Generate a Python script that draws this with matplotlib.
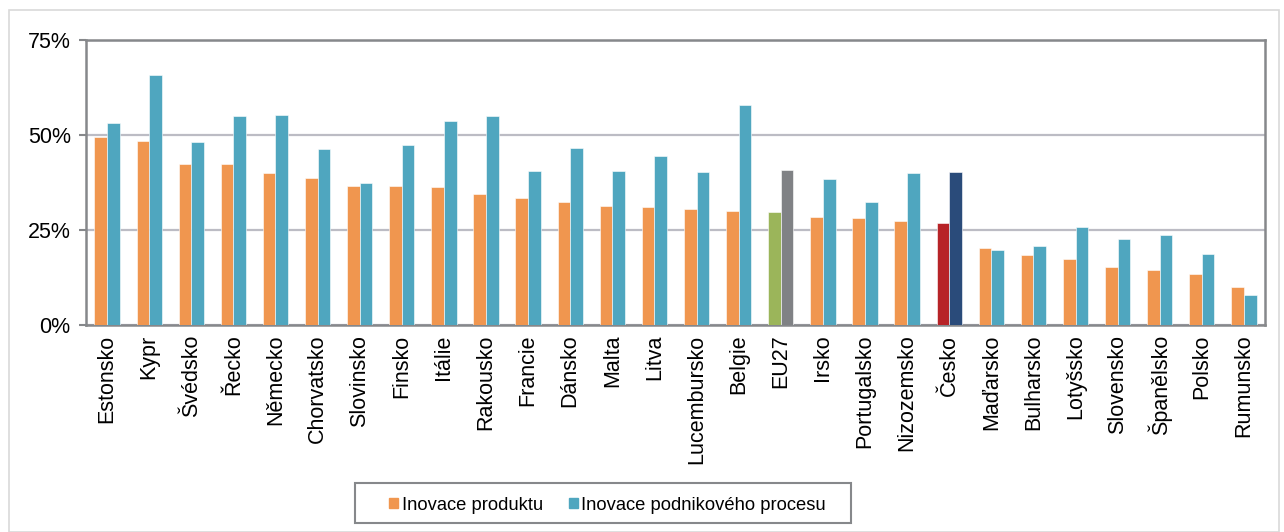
import matplotlib.pyplot as plt
import numpy as np
from matplotlib.patches import Patch, Rectangle
from matplotlib.ticker import FuncFormatter

plt.rcParams['font.family'] = ['Liberation Sans', 'DejaVu Sans']

countries = ["Estonsko", "Kypr", "Švédsko", "Řecko", "Německo", "Chorvatsko",
             "Slovinsko", "Finsko", "Itálie", "Rakousko", "Francie", "Dánsko",
             "Malta", "Litva", "Lucembursko", "Belgie", "EU27", "Irsko",
             "Portugalsko", "Nizozemsko", "Česko", "Maďarsko", "Bulharsko",
             "Lotyšsko", "Slovensko", "Španělsko", "Polsko", "Rumunsko"]
product = [49.4, 48.5, 42.5, 42.4, 40.1, 38.6, 36.7, 36.7, 36.3, 34.6, 33.5, 32.3,
           31.2, 31.1, 30.4, 29.9, 29.7, 28.5, 28.1, 27.4, 26.8, 20.3, 18.4,
           17.4, 15.3, 14.5, 13.4, 9.9]
process = [53.1, 65.8, 48.1, 55.1, 55.3, 46.2, 37.3, 47.4, 53.8, 55.1, 40.4, 46.5,
           40.5, 44.4, 40.2, 58.0, 40.9, 38.4, 32.5, 39.9, 40.2, 19.7, 20.7,
           25.8, 22.6, 23.7, 18.7, 7.9]

c_prod = "#F0964F"
c_proc = "#4FA6BF"
special = {"EU27": ("#9BB55A", "#808285"), "Česko": ("#B72327", "#2A4B7A")}

W, H = 1284, 532
fig = plt.figure(figsize=(W / 100, H / 100), dpi=100)
# outer chart border
fig.patches.append(Rectangle((9 / W, 0), 1270 / W, 1 - 10 / H,
                             transform=fig.transFigure, fill=False,
                             edgecolor="#D9D9D9", linewidth=1.2))
ax = fig.add_axes([86 / W, 1 - 325 / H, (1265 - 86) / W, (325 - 40) / H])

x = np.arange(len(countries))
w = 0.3
cols_prod = [special.get(c, (c_prod, c_proc))[0] for c in countries]
cols_proc = [special.get(c, (c_prod, c_proc))[1] for c in countries]
ax.bar(x - w / 2, product, w, color=cols_prod, edgecolor="white", linewidth=0.4, zorder=3)
ax.bar(x + w / 2, process, w, color=cols_proc, edgecolor="white", linewidth=0.4, zorder=3)

ax.set_xlim(-0.5, len(countries) - 0.5)
ax.set_ylim(0, 75)
ax.set_yticks([0, 25, 50, 75])
ax.yaxis.set_major_formatter(FuncFormatter(lambda v, p: f"{v:.0f}%"))
ax.grid(axis="y", color="#BCBCC4", linewidth=1.6, zorder=0)
for s in ax.spines.values():
    s.set_color("#86888B")
    s.set_linewidth(1.8)
ax.tick_params(axis="y", length=5, width=1.5, color="#86888B", labelsize=15.5, pad=6)
ax.set_xticks(x)
ax.set_xticklabels(countries, rotation=90, fontsize=15.5)
ax.tick_params(axis="x", length=0, pad=7)

# legend box drawn separately
fig.patches.append(Rectangle((355 / W, 1 - 523 / H), 496 / W, 40 / H,
                             transform=fig.transFigure, fill=False,
                             edgecolor="#86888B", linewidth=1.5))
handles = [Patch(color=c_prod, label="Inovace produktu"),
           Patch(color=c_proc, label="Inovace podnikového procesu")]
fig.legend(handles=handles, loc="center left", bbox_to_anchor=(389 / W, 1 - 505 / H),
           ncol=2, fontsize=13.2, frameon=False,
           handlelength=0.5, handleheight=0.5, handletextpad=0.2,
           columnspacing=1.4, borderpad=0, borderaxespad=0)

fig.savefig("out.png", dpi=100)
